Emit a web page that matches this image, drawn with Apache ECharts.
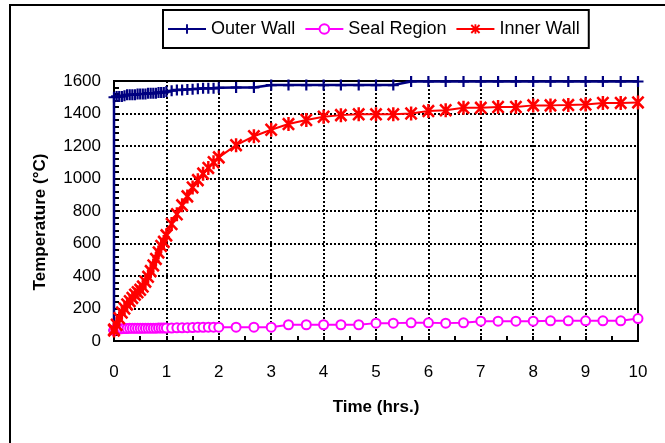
<!DOCTYPE html>
<html>
<head>
<meta charset="utf-8">
<script src="https://cdn.jsdelivr.net/npm/echarts/dist/echarts.min.js"></script>
<style>
  html, body { margin: 0; padding: 0; background: #fff; }
  #main { width: 665px; height: 443px; }
</style>
</head>
<body>
<div id="main"></div>
<script>
// wall temperatures vs time
var timeHrs = [0, 0, 0.05, 0.1, 0.15, 0.2, 0.25, 0.3, 0.35, 0.4, 0.45, 0.5, 0.55, 0.6, 0.65, 0.7, 0.75, 0.8, 0.85, 0.9, 0.95, 1.0,
  1.1, 1.2, 1.3, 1.4, 1.5, 1.6, 1.7, 1.8, 1.9, 2.0,
  2.33, 2.67, 3.0, 3.33, 3.67, 4.0, 4.33, 4.67, 5.0, 5.33, 5.67, 6.0, 6.33, 6.67, 7.0, 7.33, 7.67, 8.0, 8.33, 8.67, 9.0, 9.33, 9.67, 10.0];

var outerWall = [65, 1500, 1505, 1505, 1505, 1510, 1515, 1515, 1515, 1515, 1520, 1520, 1520, 1520, 1525, 1525, 1525, 1525, 1530, 1530, 1530, 1535,
  1540, 1545, 1545, 1548, 1550, 1552, 1555, 1555, 1555, 1558,
  1560, 1560, 1575, 1575, 1575, 1575, 1575, 1575, 1575, 1575, 1597, 1597, 1597, 1597, 1597, 1597, 1597, 1597, 1597, 1597, 1597, 1597, 1597, 1597];

var sealRegion = [65, 68, 72, 75, 76, 77, 77, 78, 78, 78, 78, 78, 78, 79, 79, 79, 79, 79, 80, 80, 80, 80,
  80, 81, 81, 82, 83, 84, 84, 85, 85, 85,
  85, 85, 85, 100, 100, 100, 100, 100, 110, 110, 112, 112, 110, 112, 122, 122, 122, 122, 124, 124, 124, 124, 124, 138];

var innerWall = [65, 70, 100, 140, 175, 200, 225, 245, 265, 285, 300, 315, 335, 365, 395, 430, 465, 505, 545, 585, 610, 650,
  720, 780, 835, 890, 945, 990, 1030, 1065, 1100, 1130,
  1205, 1260, 1300, 1335, 1360, 1380, 1390, 1395, 1395, 1395, 1400, 1415, 1420, 1435, 1435, 1440, 1440, 1450, 1450, 1452, 1455, 1465, 1465, 1468];

var seriesNames = ['Outer Wall', 'Seal Region', 'Inner Wall'];

function pairs(vals) {
  return timeHrs.map(function (t, i) { return [t, vals[i]]; });
}

// marker shapes like the excel ones
var plusPath = 'path://M-1,-5L1,-5L1,-1L5,-1L5,1L1,1L1,5L-1,5L-1,1L-5,1L-5,-1L-1,-1Z';
var starPath = 'path://M-1.1,-6L1.1,-6L1.1,6L-1.1,6Z M-4.2,-5.8L5.8,4.2L4.2,5.8L-5.8,-4.2Z M-5.8,4.2L4.2,-5.8L5.8,-4.2L-4.2,5.8Z';

var fontName = '"Liberation Sans", Arial, sans-serif';
var gridLine = { show: true, lineStyle: { color: '#000', width: 2, type: [2, 2] } };

var chart = echarts.init(document.getElementById('main'));
chart.setOption({
  animation: false,
  backgroundColor: '#fff',
  textStyle: { fontFamily: fontName },
  graphic: [{
    type: 'rect',
    z: -1,
    shape: { x: 10, y: 5, width: 700, height: 500 },
    style: { fill: 'none', stroke: '#000', lineWidth: 2 }
  }, {
    type: 'text',
    x: 40,
    y: 222,
    rotation: Math.PI / 2,
    style: {
      text: 'Temperature (°C)',
      font: 'bold 17px ' + fontName,
      fill: '#000',
      align: 'center', verticalAlign: 'middle',
      textAlign: 'center', textVerticalAlign: 'middle'
    }
  }],
  legend: {
    data: seriesNames,
    left: 163,
    top: 10,
    padding: [10, 9, 10, 4],
    itemGap: 9,
    itemWidth: 38,
    itemHeight: 12,
    borderColor: '#000',
    borderWidth: 2,
    textStyle: { fontSize: 18, color: '#000', fontFamily: fontName }
  },
  grid: {
    left: 114, top: 81, width: 524, height: 260,
    show: true, borderColor: '#000', borderWidth: 2, backgroundColor: '#fff'
  },
  xAxis: {
    type: 'value',
    min: 0, max: 10, interval: 1,
    name: 'Time (hrs.)',
    nameLocation: 'middle',
    nameGap: 58,
    nameTextStyle: { fontSize: 17, fontWeight: 'bold', color: '#000', fontFamily: fontName },
    axisLine: { show: true, onZero: false, lineStyle: { color: '#000', width: 2 } },
    axisTick: { show: true, inside: true, length: 5, lineStyle: { color: '#000', width: 2 } },
    minorTick: { show: true, splitNumber: 2, length: 5, lineStyle: { color: '#000', width: 2 } },
    axisLabel: { fontSize: 17, color: '#000', margin: 23, fontFamily: fontName },
    splitLine: gridLine
  },
  yAxis: {
    type: 'value',
    min: 0, max: 1600, interval: 200,
    axisLine: { show: true, lineStyle: { color: '#000', width: 2 } },
    axisTick: { show: true, inside: true, length: 5, lineStyle: { color: '#000', width: 2 } },
    minorTick: { show: true, splitNumber: 5, length: 5, lineStyle: { color: '#000', width: 2 } },
    axisLabel: {
      fontSize: 17, color: '#000', margin: 13, fontFamily: fontName,
      formatter: function (v) { return String(v); }
    },
    splitLine: gridLine
  },
  series: [{
    name: 'Outer Wall',
    type: 'line',
    clip: false,
    data: pairs(outerWall),
    symbol: plusPath,
    symbolSize: 11,
    color: '#000080',
    lineStyle: { color: '#000080', width: 2.5 },
    itemStyle: { color: '#000080', borderWidth: 0 }
  }, {
    name: 'Seal Region',
    type: 'line',
    clip: false,
    data: pairs(sealRegion),
    symbol: 'emptyCircle',
    symbolSize: 9,
    color: '#ff00ff',
    lineStyle: { color: '#ff00ff', width: 2 },
    itemStyle: { color: '#ff00ff', borderColor: '#ff00ff', borderWidth: 2 }
  }, {
    name: 'Inner Wall',
    type: 'line',
    clip: false,
    data: pairs(innerWall),
    symbol: starPath,
    symbolSize: [13, 14],
    color: '#ff0000',
    lineStyle: { color: '#ff0000', width: 2 },
    itemStyle: { color: '#ff0000', borderWidth: 0 }
  }]
});
</script>
</body>
</html>
